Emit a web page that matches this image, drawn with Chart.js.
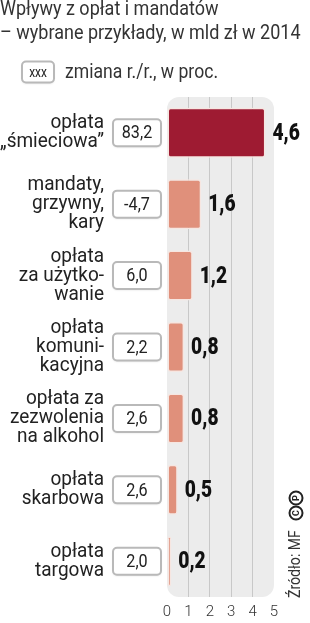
<!DOCTYPE html>
<html>
<head>
<meta charset="utf-8">
<script src="https://cdn.jsdelivr.net/npm/chart.js@4"></script>
<style>
  html, body { margin: 0; padding: 0; background: #fff; }
  canvas { display: block; }
</style>
</head>
<body>
<canvas id="fees" width="310" height="623"></canvas>
<script>
const categories = [
  ['opłata', '„śmieciowa”'],
  ['mandaty,', 'grzywny,', 'kary'],
  ['opłata', 'za użytko-', 'wanie'],
  ['opłata', 'komuni-', 'kacyjna'],
  ['opłata za', 'zezwolenia', 'na alkohol'],
  ['opłata', 'skarbowa'],
  ['opłata', 'targowa']
];
const values = [4.6, 1.6, 1.2, 0.8, 0.8, 0.5, 0.2];
const changes = ['83,2', '-4,7', '6,0', '2,2', '2,6', '2,6', '2,0'];
const xTicks = [0, 1, 2, 3, 4, 5];

const titleLines = ['Wpływy z opłat i mandatów', '– wybrane przykłady, w mld zł w 2014'];
const legendText = 'zmiana r./r., w proc.';
const sourceText = 'Źródło: MF';

const FONT = 'Roboto, "Liberation Sans", sans-serif';

function roundRect(ctx, x, y, w, h, r) {
  ctx.beginPath();
  ctx.moveTo(x + r, y);
  ctx.arcTo(x + w, y, x + w, y + h, r);
  ctx.arcTo(x + w, y + h, x, y + h, r);
  ctx.arcTo(x, y + h, x, y, r);
  ctx.arcTo(x, y, x + w, y, r);
  ctx.closePath();
}

// text drawn a bit taller than wide, like the condensed face of the original
function narrowText(ctx, text, x, y, size, sx, weight) {
  ctx.save();
  ctx.translate(x, y);
  ctx.scale(sx, 1);
  ctx.font = (weight || '') + ' ' + size + 'px ' + FONT;
  ctx.fillText(text, 0, 0);
  ctx.restore();
}

function changeBox(ctx, cx, cy, w, h, text, size) {
  ctx.save();
  ctx.shadowColor = 'rgba(0,0,0,0.15)';
  ctx.shadowBlur = 2;
  ctx.shadowOffsetY = 1;
  roundRect(ctx, cx - w / 2, cy - h / 2, w, h, 4);
  ctx.fillStyle = '#fff';
  ctx.fill();
  ctx.shadowColor = 'transparent';
  ctx.lineWidth = 2;
  ctx.strokeStyle = '#b9b9b9';
  ctx.stroke();
  ctx.fillStyle = '#222';
  ctx.textAlign = 'center';
  ctx.textBaseline = 'middle';
  narrowText(ctx, text, cx, cy + 1, size, 0.85);
  ctx.restore();
}

const panel = {
  id: 'panel',
  beforeDraw(chart) {
    const { ctx, chartArea: a } = chart;
    ctx.save();
    roundRect(ctx, a.left, a.top, a.right - a.left, a.bottom - a.top, 12);
    ctx.fillStyle = '#ececec';
    ctx.fill();
    ctx.restore();
  }
};

const annotations = {
  id: 'annotations',
  afterDraw(chart) {
    const { ctx } = chart;
    const xs = chart.scales.x, ys = chart.scales.y;
    ctx.save();
    // title
    ctx.fillStyle = '#333';
    ctx.textAlign = 'left';
    ctx.textBaseline = 'middle';
    narrowText(ctx, titleLines[0], 0, 10, 20, 0.9);
    narrowText(ctx, titleLines[1], 0, 34, 20, 0.9);
    // legend
    changeBox(ctx, 38, 72, 32, 21, 'xxx', 14);
    ctx.fillStyle = '#333';
    ctx.textAlign = 'left';
    ctx.textBaseline = 'middle';
    narrowText(ctx, legendText, 65, 73, 20, 0.88);
    // rows
    categories.forEach((lines, i) => {
      const y = ys.getPixelForValue(i);
      ctx.fillStyle = '#222';
      ctx.textAlign = 'right';
      ctx.textBaseline = 'middle';
      const lh = 19;
      const start = y - (lines.length - 1) * lh / 2;
      lines.forEach((t, k) => narrowText(ctx, t, 104, start + k * lh, 20, 0.95));
      changeBox(ctx, 137, y, 48, 27, changes[i], 19);
      ctx.fillStyle = '#111';
      ctx.textAlign = 'left';
      narrowText(ctx, String(values[i]).replace('.', ','), xs.getPixelForValue(values[i]) + 7, y + 1, 24, 0.8, '900');
    });
    // source
    ctx.translate(296, 598);
    ctx.rotate(-Math.PI / 2);
    ctx.fillStyle = '#333';
    ctx.textAlign = 'left';
    ctx.textBaseline = 'middle';
    narrowText(ctx, sourceText, 0, 0, 16, 0.88);
    ['C', 'P'].forEach((ch, k) => {
      const cx = 85 + k * 15;
      ctx.beginPath();
      ctx.arc(cx, 0, 6.5, 0, Math.PI * 2);
      ctx.lineWidth = 2;
      ctx.strokeStyle = '#222';
      ctx.stroke();
      ctx.fillStyle = '#222';
      ctx.font = 'bold 9px ' + FONT;
      ctx.textAlign = 'center';
      ctx.fillText(ch, cx, 0.5);
    });
    ctx.restore();
  }
};

new Chart(document.getElementById('fees'), {
  type: 'bar',
  data: {
    labels: categories,
    datasets: [{
      data: values,
      backgroundColor: values.map((v, i) => i === 0 ? '#9e1b32' : '#e0907b'),
      borderColor: '#f6e6e1',
      borderWidth: 1.5,
      borderSkipped: false,
      borderRadius: 3,
      categoryPercentage: 0.7,
      barPercentage: 1
    }]
  },
  options: {
    indexAxis: 'y',
    responsive: false,
    animation: false,
    layout: { padding: { left: 167, right: 36, top: 97, bottom: -4 } },
    plugins: { legend: { display: false }, tooltip: { enabled: false } },
    scales: {
      x: {
        min: 0,
        max: 5,
        afterBuildTicks: s => { s.ticks = xTicks.map(v => ({ value: v })); },
        border: { display: false },
        grid: {
          drawTicks: false,
          color: c => (c.tick && (c.tick.value === 0 || c.tick.value === 5)) ? 'transparent' : '#c8c8c8'
        },
        ticks: { padding: 6, color: '#333', font: { size: 15, family: FONT, weight: '300' } }
      },
      y: { display: false }
    }
  },
  plugins: [panel, annotations]
});
</script>
</body>
</html>
